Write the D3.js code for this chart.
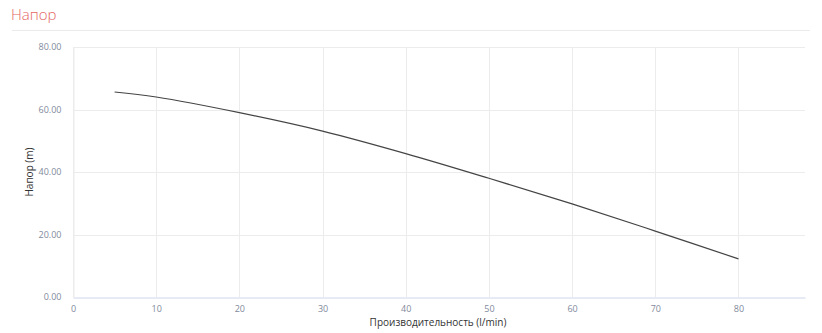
<!DOCTYPE html>
<html>
<head>
<meta charset="utf-8">
<script src="https://cdn.jsdelivr.net/npm/d3@7"></script>
<style>
  body { margin: 0; background: #fff; font-family: "Open Sans", sans-serif; }
</style>
</head>
<body>
<script>
// flow (l/min) and head (m)
var flow = [5, 10, 20, 30, 40, 50, 60, 70, 80];
var head = [65.6, 64.0, 59.0, 53.1, 45.9, 38.0, 29.8, 21.1, 12.2];
var xTicks = [0, 10, 20, 30, 40, 50, 60, 70, 80];
var yTicks = [0, 20, 40, 60, 80];

var width = 822, height = 333;
var plotLeft = 73, plotRight = 805, plotTop = 47, plotBottom = 297;

var svg = d3.select("body").append("svg")
    .attr("width", width)
    .attr("height", height);

svg.append("text")
    .attr("x", 11)
    .attr("y", 20)
    .attr("font-size", "15px")
    .attr("font-weight", 300)
    .attr("fill", "#e46464")
    .text("Напор");

svg.append("line")
    .attr("x1", 12).attr("x2", 810)
    .attr("y1", 30.5).attr("y2", 30.5)
    .attr("stroke", "#ebebeb");

var x = d3.scaleLinear().domain([0, 88]).range([plotLeft, plotRight]);
var y = d3.scaleLinear().domain([0, 80]).range([plotBottom, plotTop]);

// grid
svg.append("g").selectAll("line")
    .data(xTicks)
    .join("line")
    .attr("x1", d => Math.round(x(d)) + 0.5)
    .attr("x2", d => Math.round(x(d)) + 0.5)
    .attr("y1", plotTop).attr("y2", plotBottom)
    .attr("stroke", "#ececec");

svg.append("g").selectAll("line")
    .data(yTicks.slice(1))
    .join("line")
    .attr("x1", plotLeft).attr("x2", plotRight)
    .attr("y1", d => Math.round(y(d)) + 0.5)
    .attr("y2", d => Math.round(y(d)) + 0.5)
    .attr("stroke", "#ececec");

// x axis
var xAxis = svg.append("g")
    .attr("transform", "translate(0," + (plotBottom + 0.5) + ")")
    .call(d3.axisBottom(x).tickValues(xTicks).tickSize(0).tickPadding(8));
xAxis.select(".domain").attr("stroke", "#ccd6eb");
xAxis.selectAll("text")
    .attr("fill", "#7f8a9c")
    .attr("font-size", "9px")
    .attr("font-family", "Open Sans");

// y axis
var yAxis = svg.append("g")
    .attr("transform", "translate(" + (plotLeft + 0.5) + ",0)")
    .call(d3.axisLeft(y).tickValues(yTicks).tickSize(0).tickPadding(12)
      .tickFormat(d3.format(".2f")));
yAxis.select(".domain").attr("stroke", "#ececec");
yAxis.selectAll("text")
    .attr("fill", "#7f8a9c")
    .attr("font-size", "9px")
    .attr("font-family", "Open Sans");

// axis titles
svg.append("text")
    .attr("x", (plotLeft + plotRight) / 2 - 1)
    .attr("y", 326)
    .attr("text-anchor", "middle")
    .attr("font-size", "10px")
    .attr("fill", "#333")
    .text("Производительность (l/min)");

svg.append("text")
    .attr("transform", "translate(33," + (plotTop + plotBottom) / 2 + ") rotate(-90)")
    .attr("text-anchor", "middle")
    .attr("font-size", "10px")
    .attr("fill", "#333")
    .text("Напор (m)");

// curve
var line = d3.line()
    .x((d, i) => x(flow[i]))
    .y(d => y(d))
    .curve(d3.curveCatmullRom);

svg.append("path")
    .datum(head)
    .attr("d", line)
    .attr("fill", "none")
    .attr("stroke", "#444")
    .attr("stroke-width", 1.2);
</script>
</body>
</html>
